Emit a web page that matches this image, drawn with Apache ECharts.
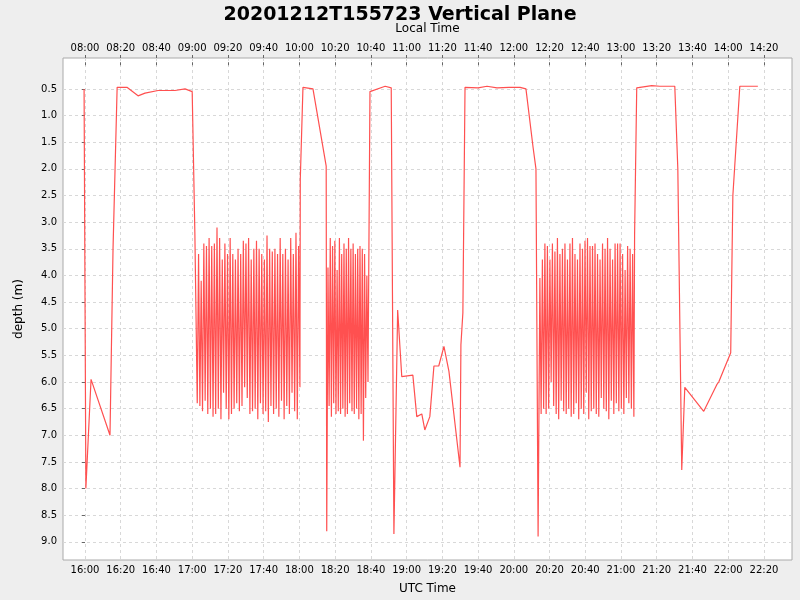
<!DOCTYPE html>
<html><head><meta charset="utf-8">
<script src="https://cdn.jsdelivr.net/npm/echarts@6/dist/echarts.min.js"></script>
<style>html,body{margin:0;padding:0;background:#eeeeee}#c{width:800px;height:600px}</style>
</head><body><div id="c"></div>
<script>
// times in minutes after 16:00 UTC; depth in m
const pathA = [[-0.5,0.5],[0.5,8.0],[3.4,5.95],[14,7.0],[15.7,3.5],[18,0.47],[23.5,0.47],[29.7,0.63],[33.6,0.58],[40.9,0.53],[50.4,0.53],[56,0.5],[60,0.55],[61.5,3.2]];
const tops1 = [3.2,3.6,4.1,3.4,3.45,3.3,3.45,3.4,3.1,3.3,3.7,3.4,3.6,3.3,3.6,3.7,3.5,3.6,3.35,3.4,3.3,3.7,3.5,3.35,3.5,3.6,3.7,3.25,3.5,3.55,3.5,3.6,3.3,3.6,3.5,3.7,3.3,3.6,3.2,3.45];
const bots1 = [6.4,6.45,6.55,6.35,6.6,6.5,6.65,6.6,6.5,6.7,6.2,6.5,6.7,6.6,6.5,6.4,6.55,6.45,6.1,6.3,6.6,6.55,6.5,6.7,6.4,6.6,6.55,6.75,6.45,6.6,6.5,6.65,6.35,6.7,6.45,6.6,6.2,6.55,6.7,6.1];
const span1 = [62.1,120.3];
const pathB = [[120.5,2.2],[122,0.47],[127.6,0.5],[135,1.95],[135.3,8.8]];
const tops2 = [3.85,3.3,3.45,3.35,3.9,3.3,3.6,3.4,3.5,3.3,3.5,3.4,3.6,3.5,3.45,3.5,3.6,4.0];
const bots2 = [6.45,6.65,6.4,6.6,6.55,6.6,6.5,6.65,6.6,6.4,6.55,6.6,6.5,6.7,6.6,7.1,6.3,6.0];
const span2 = [136,158.4];
const pathC = [[159.5,0.55],[168,0.45],[171.4,0.48],[172.9,8.85],[175,4.65],[177.3,5.9],[183.5,5.87],[185.7,6.65],[188.5,6.6],[190.2,6.9],[193,6.65],[195.3,5.7],[198,5.7],[200.9,5.33],[203.7,5.8],[209.9,7.6],[210.4,5.3],[211.5,4.7],[212.7,0.47],[220,0.48],[225,0.45],[230.6,0.48],[237.3,0.47],[243.5,0.47],[246.8,0.5],[250.8,1.6],[252.4,2.0],[253.6,8.9]];
const tops3 = [4.05,3.7,3.4,3.45,3.7,3.4,3.55,3.3,3.6,3.5,3.4,3.7,3.4,3.3,3.6,3.7,3.4,3.5,3.35,3.3,3.45,3.45,3.4,3.6,3.7,3.4,3.5,3.3,3.5,3.7,3.4,3.4,3.4,3.6,3.9,3.45,3.5,3.6];
const bots3 = [6.6,6.5,6.6,6.5,6.0,6.45,6.6,6.7,6.35,6.55,6.6,6.5,6.65,6.6,6.4,6.7,6.5,6.6,6.2,6.7,6.55,6.5,6.6,6.65,6.3,6.5,6.55,6.7,6.35,6.6,6.4,6.55,6.5,6.6,6.3,6.4,6.5,6.65];
const span3 = [254.6,307.2];
const pathD = [[307.6,3.25],[308.8,0.48],[317.2,0.44],[321.7,0.45],[330.1,0.45],[331.8,2.0],[334,7.65],[335.7,6.1],[346.3,6.55],[353.6,6.05],[354.7,6.0],[361.4,5.45],[362.6,2.5],[366.5,0.45],[376.6,0.45]];
const xTicks = [0,20,40,60,80,100,120,140,160,180,200,220,240,260,280,300,320,340,360,380];
const yTicks = [0.5,1.0,1.5,2.0,2.5,3.0,3.5,4.0,4.5,5.0,5.5,6.0,6.5,7.0,7.5,8.0,8.5,9.0];

function osc(tops, bots, span){
  const out=[]; const n=tops.length; const step=(span[1]-span[0])/(2*n-1);
  for(let i=0;i<n;i++){ out.push([span[0]+2*i*step,tops[i]]); out.push([span[0]+(2*i+1)*step,bots[i]]); }
  return out;
}
const data = [].concat(pathA, osc(tops1,bots1,span1), pathB, osc(tops2,bots2,span2), pathC, osc(tops3,bots3,span3), pathD);
function hm(m, off){ let t=16*60+m+off; const h=Math.floor(t/60), mm=Math.round(t%60); return String(h).padStart(2,'0')+':'+String(mm).padStart(2,'0'); }
const font = 'DejaVu Sans';
const gridLine = {show:true,lineStyle:{color:'#d8d8d8',type:[3,3]}};
const chart = echarts.init(document.getElementById('c'));
chart.setOption({
  backgroundColor:'#eeeeee', animation:false,
  textStyle:{fontFamily:font},
  title:{text:'20201212T155723 Vertical Plane',left:'center',top:1,textStyle:{fontFamily:font,fontSize:19,fontWeight:'bold',color:'#000'}},
  grid:{left:63,right:8,top:58,bottom:40,show:true,backgroundColor:'#fff',borderColor:'#aaa',borderWidth:1},
  xAxis:[
    {type:'value',position:'bottom',min:-12.3,max:395.7,name:'UTC Time',nameLocation:'middle',nameGap:23,nameTextStyle:{fontSize:12,color:'#000'},
     axisLine:{show:false},axisTick:{customValues:xTicks,length:3,lineStyle:{color:'#666'}},
     axisLabel:{customValues:xTicks,formatter:v=>hm(v,0),fontSize:10,color:'#000',margin:5},splitLine:gridLine},
    {type:'value',position:'top',min:-12.3,max:395.7,name:'Local Time',nameLocation:'middle',nameGap:23,nameTextStyle:{fontSize:12,color:'#000',padding:[0,0,0,0]},
     axisLine:{show:false},axisTick:{customValues:xTicks,length:3,lineStyle:{color:'#666'}},
     axisLabel:{customValues:xTicks,formatter:v=>hm(v,-480),fontSize:10,color:'#000',margin:5},splitLine:{show:false}}
  ],
  yAxis:{type:'value',inverse:true,min:-0.08,max:9.34,name:'depth (m)',nameLocation:'middle',nameGap:38,nameTextStyle:{fontSize:12,color:'#000'},
     axisLine:{show:false},axisTick:{customValues:yTicks,length:3,lineStyle:{color:'#666'}},
     axisLabel:{customValues:yTicks,formatter:v=>v.toFixed(1),fontSize:10,color:'#000',margin:6},splitLine:gridLine},
  series:[{type:'line',data:data,showSymbol:false,lineStyle:{color:'#ff5050',width:1.2},itemStyle:{color:'#ff5050'}}]
});
</script></body></html>
